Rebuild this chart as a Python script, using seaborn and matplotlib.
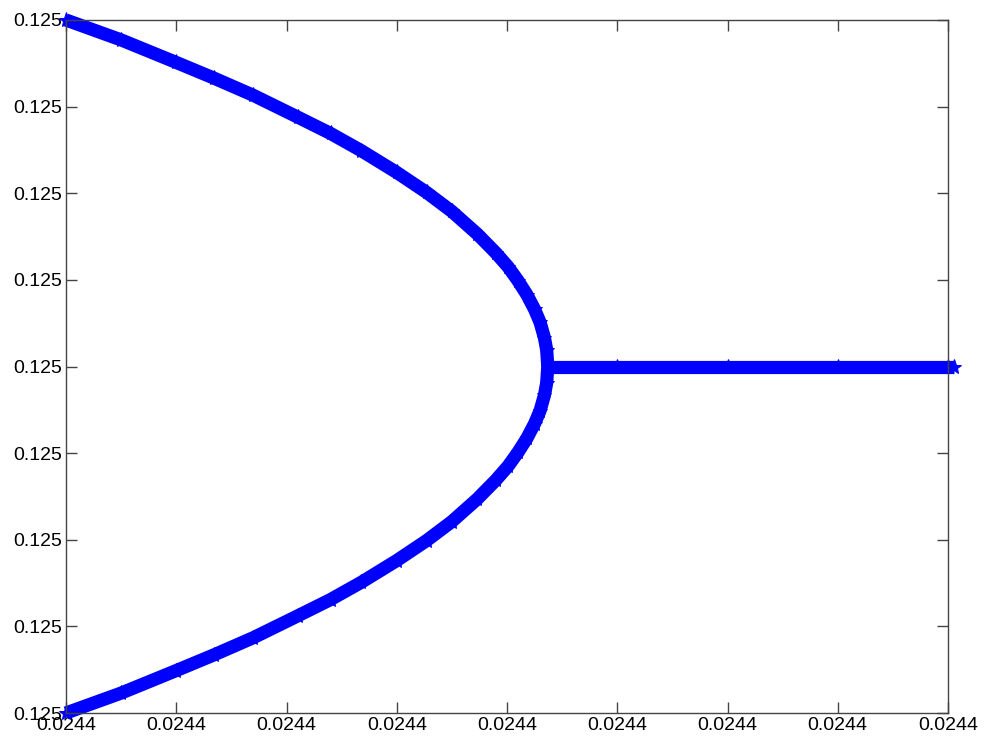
import matplotlib
matplotlib.use("Agg")
import matplotlib.pyplot as plt
from matplotlib.ticker import FormatStrFormatter
import numpy as np
import pandas as pd
import seaborn as sns

# parameter offsets from 0.0244 (units of 1e-7) and amplitude offsets from 0.125 (units of 1e-7)
X0 = 0.0244
Y0 = 0.125
SCALE = 1e-7

upper_x = [0.0, 0.5, 1.0, 1.34, 1.7, 2.1, 2.4, 2.68, 3.0, 3.27, 3.5, 3.73, 3.9,
           4.01, 4.1, 4.18, 4.25, 4.30, 4.34, 4.36, 4.37]
upper_y = [4.0, 3.77, 3.51, 3.33, 3.13, 2.88, 2.69, 2.49, 2.24, 2.01, 1.79, 1.53,
           1.31, 1.15, 0.99, 0.83, 0.66, 0.51, 0.33, 0.19, 0.0]
lower_x = [0.0, 0.5, 1.0, 1.34, 1.7, 2.1, 2.4, 2.68, 3.0, 3.27, 3.5, 3.73, 3.9,
           4.01, 4.1, 4.18, 4.25, 4.30, 4.34, 4.36, 4.37]
lower_y = [-4.0, -3.77, -3.51, -3.33, -3.13, -2.88, -2.69, -2.49, -2.24, -2.01,
           -1.79, -1.53, -1.31, -1.15, -0.99, -0.83, -0.66, -0.51, -0.33, -0.19, 0.0]
trivial_x = [4.37, 5.0, 6.0, 7.0, 8.0, 8.05]
trivial_y = [0.0, 0.0, 0.0, 0.0, 0.0, 0.0]

x_ticks = [0, 1, 2, 3, 4, 5, 6, 7, 8]
y_ticks = [-4, -3, -2, -1, 0, 1, 2, 3, 4]

frames = []
for name, xs, ys in [("upper", upper_x, upper_y), ("lower", lower_x, lower_y),
                     ("trivial", trivial_x, trivial_y)]:
    frames.append(pd.DataFrame({
        "mu": X0 + np.array(xs) * SCALE,
        "amp": Y0 + np.array(ys) * SCALE,
        "branch": name,
    }))
df = pd.concat(frames, ignore_index=True)

sns.set_theme(style="white")
plt.rcParams["font.family"] = ["Liberation Sans", "DejaVu Sans"]
plt.rcParams["xtick.direction"] = "in"
plt.rcParams["ytick.direction"] = "in"

fig = plt.figure(figsize=(9.84, 7.45), dpi=100)
ax = fig.add_axes([66 / 984, 32 / 745, 882 / 984, 693 / 745])

sns.lineplot(data=df, x="mu", y="amp", units="branch", estimator=None, sort=False,
             color="#0000ff", linewidth=9.5, marker="*", markersize=11,
             markeredgecolor="#0000ff", solid_capstyle="butt", ax=ax, clip_on=False)

ax.set_xlim(X0, X0 + 8 * SCALE)
ax.set_ylim(Y0 - 4 * SCALE, Y0 + 4 * SCALE)
ax.set_xticks([X0 + t * SCALE for t in x_ticks])
ax.set_yticks([Y0 + t * SCALE for t in y_ticks])
ax.xaxis.set_major_formatter(FormatStrFormatter("%.3g"))
ax.yaxis.set_major_formatter(FormatStrFormatter("%.3g"))
ax.set_xlabel("")
ax.set_ylabel("")
ax.tick_params(axis="both", which="both", length=8, width=1, color="#444444",
               labelsize=14, labelcolor="black", pad=3,
               top=True, right=True, bottom=True, left=True)
for s in ax.spines.values():
    s.set_visible(True)
    s.set_color("#444444")
    s.set_linewidth(1)
ax.set_facecolor("white")
fig.patch.set_facecolor("white")

fig.savefig("out.png", dpi=100)
